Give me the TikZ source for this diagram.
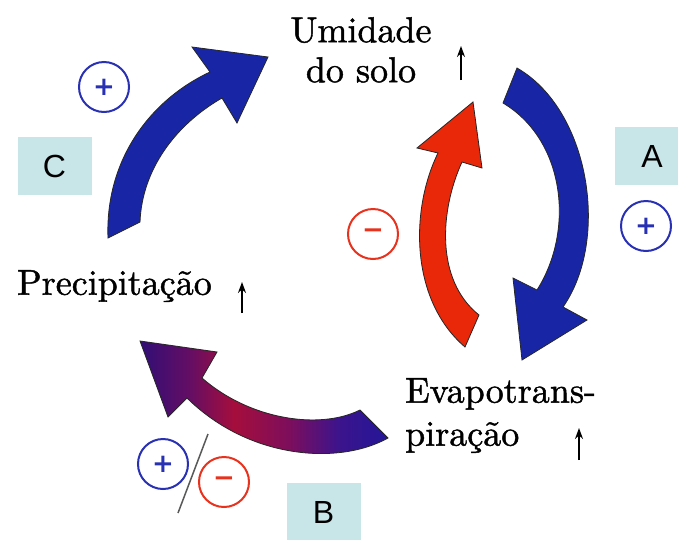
\documentclass[tikz,border=0pt]{standalone}
\usepackage{fontspec}
\newfontfamily\labelfont{Liberation Sans}
\newfontfamily\signfont{DejaVu Sans}
\newfontfamily\wordfont{lmroman10-regular.otf}[FakeBold=1.2]
\usetikzlibrary{arrows.meta}
\definecolor{arrowblue}{RGB}{24,38,165}
\definecolor{arrowred}{RGB}{232,40,8}
\definecolor{signblue}{RGB}{40,48,180}
\definecolor{signred}{RGB}{232,50,30}
\definecolor{boxcyan}{RGB}{200,230,232}
\definecolor{gradA}{RGB}{48,14,118}
\definecolor{gradB}{RGB}{100,14,100}
\definecolor{gradC}{RGB}{165,14,60}
\definecolor{gradD}{RGB}{125,14,92}
\definecolor{gradE}{RGB}{60,20,140}
\definecolor{gradF}{RGB}{35,22,152}
\pgfdeclarehorizontalshading{bshade}{100bp}{color(0bp)=(gradA); color(25bp)=(gradA); color(35bp)=(gradB); color(44bp)=(gradC); color(55bp)=(gradD); color(65bp)=(gradE); color(75bp)=(gradF); color(100bp)=(gradF)}
\begin{document}
\begin{tikzpicture}[x=1pt,y=-1pt,
  bigarrow/.style={draw=black!85, line width=0.8pt, line join=miter},
  word/.style={inner sep=0pt, font=\wordfont\fontsize{36pt}{40pt}\selectfont},
  labelbox/.style={fill=boxcyan, minimum width=74pt, minimum height=58pt, inner sep=0pt, font=\labelfont\fontsize{32pt}{32pt}\selectfont},
  signcircle/.style={circle, draw, line width=2pt, minimum size=50pt, inner sep=0pt, font=\signfont\bfseries\fontsize{26pt}{26pt}\selectfont},
  txtarrow/.style={-{Stealth[length=11pt,width=8pt]}, line width=2pt},
]
\clip (0,0) rectangle (678,539);
\fill[white] (0,0) rectangle (678,539);

% label boxes
\node[labelbox] (boxA) at (652,156) {A};
\node[labelbox] (boxB) at (323.5,512) {B};
\node[labelbox] (boxC) at (54.5,166) {C};

% arrow C (blue, up-right)
\filldraw[bigarrow, fill=arrowblue]
  (108,238) .. controls (105,160) and (150,100) .. (210,72)
  -- (192,47) -- (268,57) -- (237,123) -- (222,98)
  .. controls (175,125) and (142,170) .. (140,222) -- cycle;

% arrow A (blue, down)
\filldraw[bigarrow, fill=arrowblue]
  (503,103) -- (517,68)
  .. controls (590,110) and (610,240) .. (563,307)
  -- (587,320) -- (522,360) -- (513,278) -- (537,290)
  .. controls (575,230) and (565,140) .. (503,103) -- cycle;

% red arrow (up)
\filldraw[bigarrow, fill=arrowred]
  (473,102) -- (482,168) -- (462,162)
  .. controls (440,210) and (435,280) .. (479,315)
  -- (465,347)
  .. controls (410,300) and (410,210) .. (438,153)
  -- (417,148) -- cycle;

% gradient arrow B (left)
\shadedraw[bigarrow, shading=bshade]
  (140,341) -- (217,352) -- (202,378)
  .. controls (250,420) and (320,430) .. (360,410)
  -- (388,438)
  .. controls (340,465) and (250,460) .. (187,398)
  -- (168,417) -- cycle;

% texts
\node[word, anchor=north, align=center] (umid) at (361,17) {Umidade\\do solo};
\node[word, anchor=north west] (precip) at (17,270) {Precipitação};
\node[word, anchor=north west, align=left, font=\wordfont\fontsize{36pt}{43pt}\selectfont] (evap) at (405,378) {Evapotrans-\\piração};

% small "increase" arrows
\coordinate (u1) at (461,80); \coordinate (u2) at (461,46);
\coordinate (p1) at (242,313); \coordinate (p2) at (242,282);
\coordinate (e1) at (579,460); \coordinate (e2) at (579,428);
\draw[txtarrow] (u1) -- (u2);
\draw[txtarrow] (p1) -- (p2);
\draw[txtarrow] (e1) -- (e2);

% sign circles
\node[signcircle, draw=signblue, text=signblue] (plusC) at (104,87) {+};
\node[signcircle, draw=signblue, text=signblue] (plusA) at (646,226) {+};
\node[signcircle, draw=signred, text=signred] (minusR) at (373,234) {−};
\node[signcircle, draw=signblue, text=signblue] (plusB) at (163,464) {+};
\node[signcircle, draw=signred, text=signred] (minusB) at (224,482) {−};
\coordinate (s1) at (208,434); \coordinate (s2) at (178,513);
\draw[gray!70!black, line width=1.5pt] (s1) -- (s2);
\end{tikzpicture}
\end{document}
